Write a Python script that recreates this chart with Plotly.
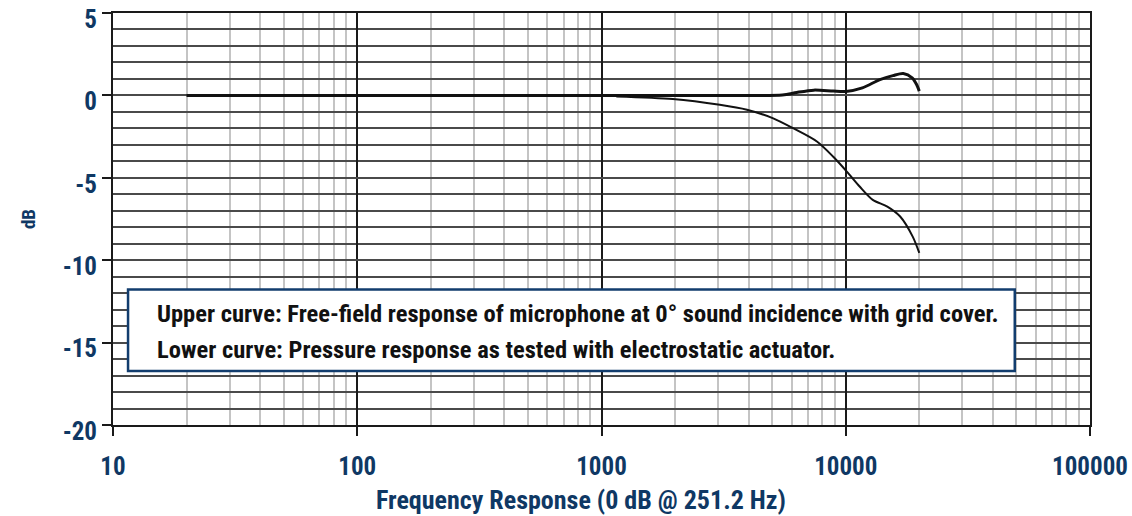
import plotly.graph_objects as go

# Upper curve: free-field response
upper_freq = [20, 100, 1000, 3000, 5500, 6300, 7400, 8900, 10000, 11700, 13800, 15600, 17200, 18700, 19500, 20000]
upper_db = [0, 0, 0, 0, 0.02, 0.18, 0.32, 0.26, 0.24, 0.46, 0.96, 1.2, 1.33, 1.07, 0.66, 0.26]

# Lower curve: pressure response (electrostatic actuator)
lower_freq = [1150, 1960, 3050, 3940, 5020, 6080, 7620, 8870, 10100, 11400, 12900, 14800, 16700, 18800, 20000]
lower_db = [-0.06, -0.22, -0.57, -0.87, -1.38, -1.99, -2.8, -3.71, -4.62, -5.53, -6.34, -6.75, -7.35, -8.57, -9.56]

x_tickvals = [10, 100, 1000, 10000, 100000]
x_ticktext = ["10", "100", "1000", "10000", "100000"]
y_tickvals = [5, 0, -5, -10, -15, -20]
y_ticktext = ["5", "0", "-5", "-10", "-15", "-20"]

x_title = "Frequency Response (0 dB @ 251.2 Hz)"
y_title = "dB"
note_lines = [
    "Upper curve: Free-field response of microphone at 0° sound incidence with grid cover.",
    "Lower curve: Pressure response as tested with electrostatic actuator.",
]

NAVY = "#0f3864"
FONT = "Roboto Condensed, Liberation Sans Narrow, DejaVu Sans Condensed, Liberation Sans, sans-serif"

fig = go.Figure()
fig.add_trace(go.Scatter(x=upper_freq, y=upper_db, mode="lines",
                         line=dict(color="#111111", width=3, shape="spline", smoothing=0.8),
                         showlegend=False, hoverinfo="skip"))
fig.add_trace(go.Scatter(x=lower_freq, y=lower_db, mode="lines",
                         line=dict(color="#111111", width=2, shape="spline", smoothing=0.8),
                         showlegend=False, hoverinfo="skip"))

fig.update_layout(
    width=1132, height=516,
    margin=dict(l=113, r=42, t=13, b=91),
    paper_bgcolor="white", plot_bgcolor="white",
    font=dict(family=FONT, color=NAVY),
    xaxis=dict(
        type="log", range=[1, 5], automargin=False,
        tickmode="array", tickvals=x_tickvals, ticktext=x_ticktext,
        showgrid=True, gridcolor="#1a1a1a", gridwidth=2,
        minor=dict(dtick="D1", showgrid=True, gridcolor="#c4c4c4", gridwidth=2, ticks=""),
        ticks="outside", ticklen=9, tickwidth=2, tickcolor="#1a1a1a",
        showline=True, linecolor="#1a1a1a", linewidth=2, mirror=True,
        tickfont=dict(family=FONT, size=25, color=NAVY, weight="bold"),
        ticklabelstandoff=9,
        zeroline=False,
    ),
    yaxis=dict(
        range=[-20, 5], automargin=False,
        tickmode="array", tickvals=y_tickvals, ticktext=y_ticktext,
        showgrid=True, gridcolor="#4a4a4a", gridwidth=2,
        minor=dict(dtick=1, showgrid=True, gridcolor="#4a4a4a", gridwidth=2, ticks=""),
        ticks="outside", ticklen=9, tickwidth=2, tickcolor="#1a1a1a",
        showline=True, linecolor="#1a1a1a", linewidth=2, mirror=True,
        tickfont=dict(family=FONT, size=25, color=NAVY, weight="bold"),
        ticklabelshift=6,
        title=dict(text="<b>" + y_title + "</b>", font=dict(family=FONT, size=19, color=NAVY), standoff=22),
        zeroline=False,
    ),
)

# X-axis title (slightly left of centre, as in the reference)
fig.add_annotation(xref="paper", yref="paper", x=0.4795, y=0, yshift=-75,
                   xanchor="center", yanchor="middle", showarrow=False,
                   text="<b>" + x_title + "</b>",
                   font=dict(family=FONT, size=26, color=NAVY))

# Note box
fig.add_shape(type="rect", xref="paper", yref="paper",
              x0=0.0154, x1=0.923, y0=0.131, y1=0.329,
              line=dict(color="#123d6e", width=2.5), fillcolor="white", layer="above")
for txt, yy in zip(note_lines, [0.271, 0.184]):
    fig.add_annotation(xref="paper", yref="paper", x=0.043, y=yy,
                       xanchor="left", yanchor="middle", showarrow=False,
                       text="<b>" + txt + "</b>",
                       font=dict(family=FONT, size=24.5, color="#111111"))

fig.write_html("out.html", config={"displayModeBar": False},
               post_script="document.body.style.margin='0px';")
